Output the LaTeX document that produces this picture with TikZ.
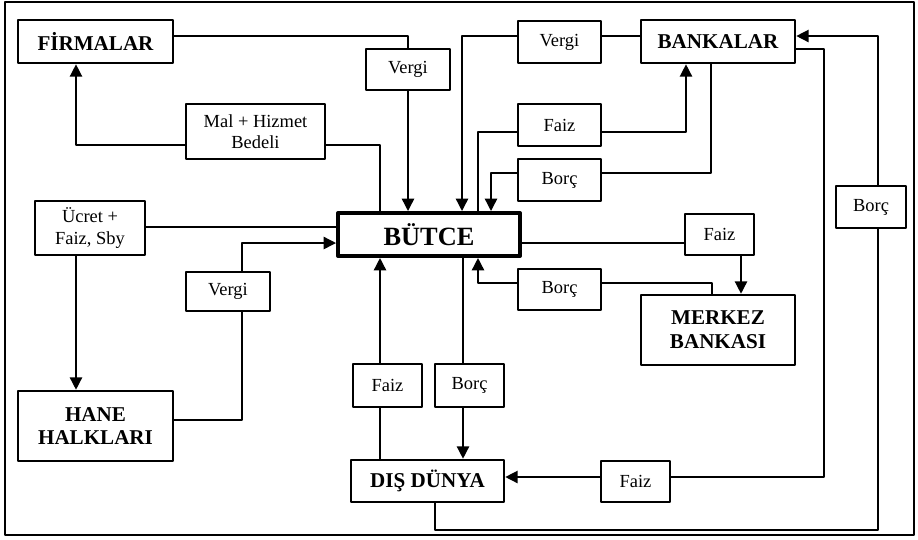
\documentclass[tikz,border=0pt]{standalone}
\usepackage{fontspec}
\setmainfont{Liberation Serif}
\usetikzlibrary{arrows.meta}
\begin{document}
\begin{tikzpicture}[x=0.02cm,y=-0.02cm,line join=round,line cap=round,
  >={Triangle[width=7pt,length=7pt]},line width=0.8pt,
  ana/.style={draw,line width=1.5pt,inner sep=0pt,align=center,font=\fontsize{12}{13.5}\selectfont\bfseries},
  kutu/.style={draw,line width=0.75pt,inner sep=0pt,align=center,font=\fontsize{10.5}{12}\selectfont}]
  \useasboundingbox (0,0) rectangle (918,539);
  \draw[line width=1.5pt] (5,2) rectangle (914,535);
  % ana birimler
  \node[ana,minimum width=3.1cm,minimum height=0.86cm] (firma) at (95.5,41.5) {FİRMALAR};
  \node[ana,minimum width=3.08cm,minimum height=0.86cm] (banka) at (718,41.5) {BANKALAR};
  \node[ana,minimum width=3.64cm,minimum height=0.86cm,line width=2.3pt,
        font=\fontsize{15}{17}\selectfont\bfseries] (butce) at (429,234.5) {BÜTCE};
  \node[ana,minimum width=3.08cm,minimum height=1.4cm] (merkez) at (718,330) {MERKEZ\\BANKASI};
  \node[ana,minimum width=3.1cm,minimum height=1.4cm] (hane) at (95.5,426) {HANE\\HALKLARI};
  \node[ana,minimum width=3.06cm,minimum height=0.84cm] (dis) at (427.5,481) {DIŞ DÜNYA};
  % akim kutulari
  \node[kutu,minimum width=1.68cm,minimum height=0.82cm] (vergiF) at (408,69.5) {Vergi};
  \node[kutu,minimum width=2.78cm,minimum height=1.1cm] (mal) at (255.5,131.5) {Mal + Hizmet\\Bedeli};
  \node[kutu,minimum width=2.2cm,minimum height=1.08cm] (ucret) at (90,228) {Ücret +\\Faiz, Sby};
  \node[kutu,minimum width=1.68cm,minimum height=0.78cm] (vergiH) at (228,291.5) {Vergi};
  \node[kutu,minimum width=1.66cm,minimum height=0.84cm] (vergiB) at (559.5,42) {Vergi};
  \node[kutu,minimum width=1.66cm,minimum height=0.84cm] (faizB) at (559.5,125) {Faiz};
  \node[kutu,minimum width=1.66cm,minimum height=0.84cm] (borcB) at (559.5,180) {Borç};
  \node[kutu,minimum width=1.38cm,minimum height=0.82cm] (faizMB) at (719.5,234.5) {Faiz};
  \node[kutu,minimum width=1.66cm,minimum height=0.82cm] (borcMB) at (559.5,289.5) {Borç};
  \node[kutu,minimum width=1.4cm,minimum height=0.84cm] (borcBD) at (871,207) {Borç};
  \node[kutu,minimum width=1.38cm,minimum height=0.86cm] (faizD) at (387.5,385.5) {Faiz};
  \node[kutu,minimum width=1.38cm,minimum height=0.86cm] (borcD) at (469.5,385.5) {Borç};
  \node[kutu,minimum width=1.38cm,minimum height=0.82cm] (faizDB) at (635.5,481.5) {Faiz};
  % firmalar ve hane halklari
  \draw (firma.east|-0,36) -| (vergiF.north);
  \draw[->] (vergiF.south) -- (vergiF.south|-butce.north);
  \draw (butce.north-|380,0) |- (mal.east|-0,145);
  \draw[->] (mal.west|-0,145) -| (firma.south-|76,0);
  \draw (butce.west|-0,227) -- (ucret.east|-0,227);
  \draw[->] (ucret.south-|76,0) -- (hane.north-|76,0);
  \draw (hane.east|-0,420) -| (vergiH.south-|242,0);
  \draw[->] (vergiH.north-|242,0) |- (butce.west|-0,243);
  % bankalar
  \draw (banka.west|-0,36) -- (vergiB.east|-0,36);
  \draw[->] (vergiB.west|-0,36) -| (butce.north-|462,0);
  \draw (butce.north-|478,0) |- (faizB.west|-0,132);
  \draw[->] (faizB.east|-0,132) -| (banka.south-|686,0);
  \draw (banka.south-|711,0) |- (borcB.east|-0,173);
  \draw[->] (borcB.west|-0,173) -| (butce.north-|491,0);
  % merkez bankasi
  \draw (butce.east|-0,243) -- (faizMB.west|-0,243);
  \draw[->] (faizMB.south-|741,0) -- (merkez.north-|741,0);
  \draw (merkez.north-|712,0) |- (borcMB.east|-0,283);
  \draw[->] (borcMB.west|-0,283) -| (butce.south-|478,0);
  % dis dunya
  \draw (dis.north-|380,0) -- (faizD.south-|380,0);
  \draw[->] (faizD.north-|380,0) -- (butce.south-|380,0);
  \draw (butce.south-|463,0) -- (borcD.north-|463,0);
  \draw[->] (borcD.south-|463,0) -- (dis.north-|463,0);
  \draw (banka.east|-0,49) -| (824,477) -- (faizDB.east|-0,477);
  \draw[->] (faizDB.west|-0,477) -- (dis.east|-0,477);
  \draw (dis.south-|435,0) |- (878,530) -- (borcBD.south-|878,0);
  \draw[->] (borcBD.north-|878,0) |- (banka.east|-0,36);
\end{tikzpicture}
\end{document}
